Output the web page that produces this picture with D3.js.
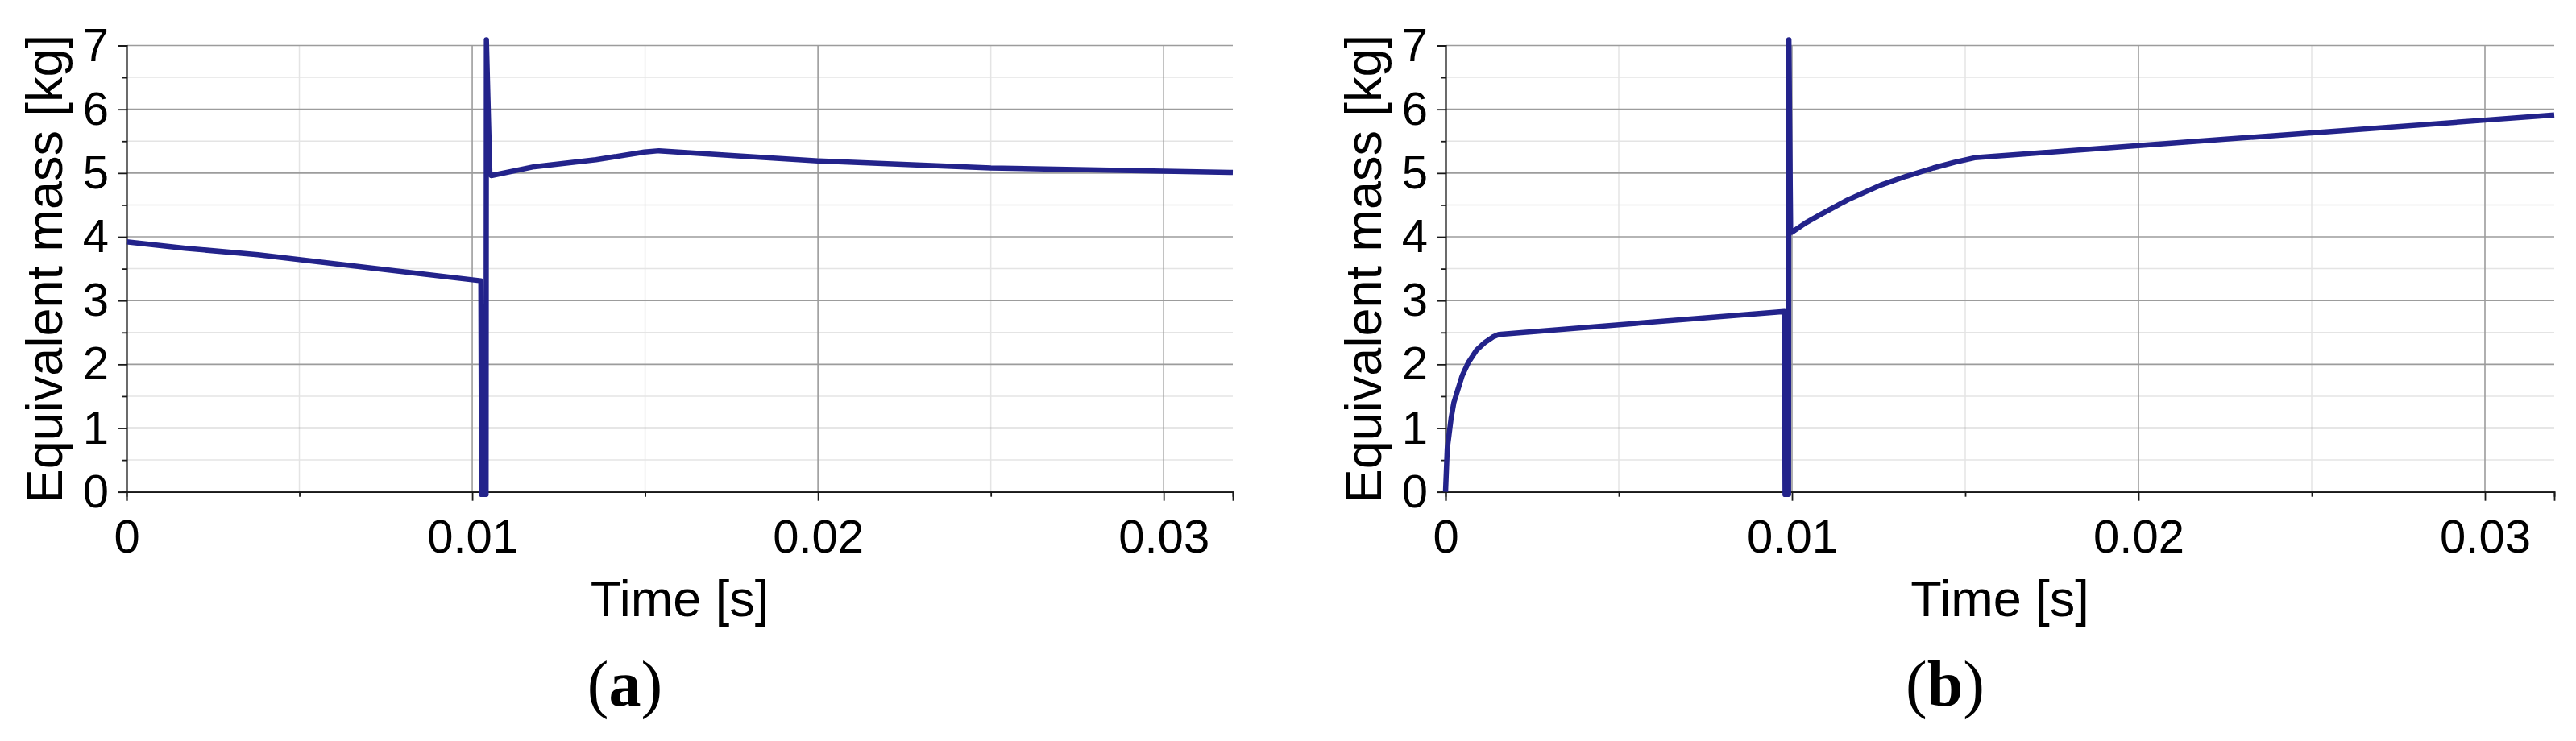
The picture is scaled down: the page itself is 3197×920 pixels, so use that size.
<!DOCTYPE html>
<html>
<head>
<meta charset="utf-8">
<script src="https://cdn.jsdelivr.net/npm/d3@7"></script>
<style>
  body { margin: 0; background: #fff; }
  svg { display: block; }
  .tick text { font-family: "Liberation Sans", Arial, sans-serif; fill: #000; }
</style>
</head>
<body>
<svg id="chart"></svg>
<script>
// values
var timeA = [0, 0.0017, 0.0038, 0.01025, 0.01027, 0.0104, 0.01041, 0.01051, 0.01055,
             0.0118, 0.01358, 0.01498, 0.0154, 0.0174, 0.02, 0.025, 0.03, 0.032];
var massA = [3.92, 3.82, 3.72, 3.31, -0.04, -0.04, 7.09, 5.0, 4.96,
             5.10, 5.21, 5.33, 5.35, 5.28, 5.19, 5.08, 5.03, 5.01];

var timeB = [0, 0.00005, 0.0001, 0.00016, 0.00024, 0.00036, 0.00048, 0.00066, 0.00089, 0.00113, 0.00137, 0.00154,
             0.00978, 0.0098, 0.0099, 0.00991, 0.00996, 0.00999,
             0.0104, 0.01079, 0.0112, 0.01161, 0.0121, 0.01256, 0.0133, 0.01408, 0.0147, 0.01527,
             0.02, 0.03, 0.032];
var massB = [0, 0.68, 0.89, 1.15, 1.40, 1.61, 1.82, 2.03, 2.22, 2.34, 2.43, 2.47,
             2.83, -0.04, -0.04, 7.09, 4.1, 4.07,
             4.22, 4.34, 4.46, 4.58, 4.70, 4.81, 4.95, 5.08, 5.17, 5.24,
             5.43, 5.83, 5.91];

var panelNames = ["a", "b"];
var xTicks = [0, 0.01, 0.02, 0.03];
var xTickLabels = ["0", "0.01", "0.02", "0.03"];
var xMinor = [0.005, 0.015, 0.025];
var yTicks = [0, 1, 2, 3, 4, 5, 6, 7];
var yMinor = [0.5, 1.5, 2.5, 3.5, 4.5, 5.5, 6.5];
var xTitle = "Time [s]";
var yTitle = "Equivalent mass [kg]";

var width = 3197, height = 920;

var svg = d3.select("#chart")
    .attr("width", width)
    .attr("height", height);

function drawPanel(times, masses, name, left, plotW) {

var top = 56.5, plotH = 554.2;

var x = d3.scaleLinear()
    .domain([0, 0.032])
    .range([0, plotW]);

var y = d3.scaleLinear()
    .domain([0, 7])
    .range([plotH, 0]);

var g = svg.append("g")
    .attr("transform", "translate(" + left + "," + top + ")");

// minor grid
g.selectAll(".hminor").data(yMinor).enter().append("line")
    .attr("x1", 0).attr("x2", plotW)
    .attr("y1", y).attr("y2", y)
    .attr("stroke", "#e4e4e4").attr("stroke-width", 1.5);
g.selectAll(".vminor").data(xMinor).enter().append("line")
    .attr("x1", x).attr("x2", x)
    .attr("y1", 0).attr("y2", plotH)
    .attr("stroke", "#e4e4e4").attr("stroke-width", 1.5);

// major grid
g.selectAll(".hmajor").data(yTicks.slice(1)).enter().append("line")
    .attr("x1", 0).attr("x2", plotW)
    .attr("y1", y).attr("y2", y)
    .attr("stroke", "#9c9c9c").attr("stroke-width", 1.6);
g.selectAll(".vmajor").data(xTicks.slice(1)).enter().append("line")
    .attr("x1", x).attr("x2", x)
    .attr("y1", 0).attr("y2", plotH)
    .attr("stroke", "#9c9c9c").attr("stroke-width", 1.6);

// axes
var yAxis = d3.axisLeft(y).tickValues(yTicks).tickSize(11).tickPadding(11)
    .tickFormat(d3.format("d"));
var yAxisMinor = d3.axisLeft(y).tickValues(yMinor).tickSize(6).tickFormat("");
var xAxis = d3.axisBottom(x).tickValues(xTicks).tickSize(11).tickPadding(23)
    .tickFormat(function(d, i) { return xTickLabels[i]; });
var xAxisMinor = d3.axisBottom(x).tickValues(xMinor).tickSize(6).tickFormat("");

[g.append("g").call(yAxis),
 g.append("g").call(yAxisMinor),
 g.append("g").attr("transform", "translate(0," + plotH + ")").call(xAxis),
 g.append("g").attr("transform", "translate(0," + plotH + ")").call(xAxisMinor)
].forEach(function(a) {
  a.selectAll(".domain").attr("stroke", "#1a1a1a").attr("stroke-width", 1.8);
  a.selectAll(".tick line").attr("stroke", "#1a1a1a").attr("stroke-width", 1.8);
  a.selectAll(".tick text").style("font-size", "58px");
});

// the series
var pts = times.map(function(t, i) { return [t, masses[i]]; });
var line = d3.line()
    .x(function(d) { return x(d[0]); })
    .y(function(d) { return y(d[1]); });

g.append("path")
    .datum(pts)
    .attr("d", line)
    .attr("fill", "none")
    .attr("stroke", "#23238b")
    .attr("stroke-width", 6.5)
    .attr("stroke-linejoin", "round");

// titles
g.append("text")
    .attr("x", plotW / 2)
    .attr("y", 765 - top)
    .attr("text-anchor", "middle")
    .style("font-family", "\"Liberation Sans\", Arial, sans-serif")
    .style("font-size", "63px")
    .text(xTitle);

g.append("text")
    .attr("transform", "translate(-80," + (plotH / 2) + ") rotate(-90)")
    .attr("text-anchor", "middle")
    .style("font-family", "\"Liberation Sans\", Arial, sans-serif")
    .style("font-size", "63px")
    .text(yTitle);

var cap = g.append("text")
    .attr("x", plotW / 2 - 68)
    .attr("y", 876 - top)
    .attr("text-anchor", "middle")
    .style("font-family", "\"Liberation Serif\", \"Times New Roman\", serif")
    .style("font-size", "80px");
cap.append("tspan").text("(");
cap.append("tspan").style("font-weight", "bold").text(name);
cap.append("tspan").text(")");
}

drawPanel(timeA, massA, panelNames[0], 157, 1373);
drawPanel(timeB, massB, panelNames[1], 1794, 1376);
</script>
</body>
</html>
